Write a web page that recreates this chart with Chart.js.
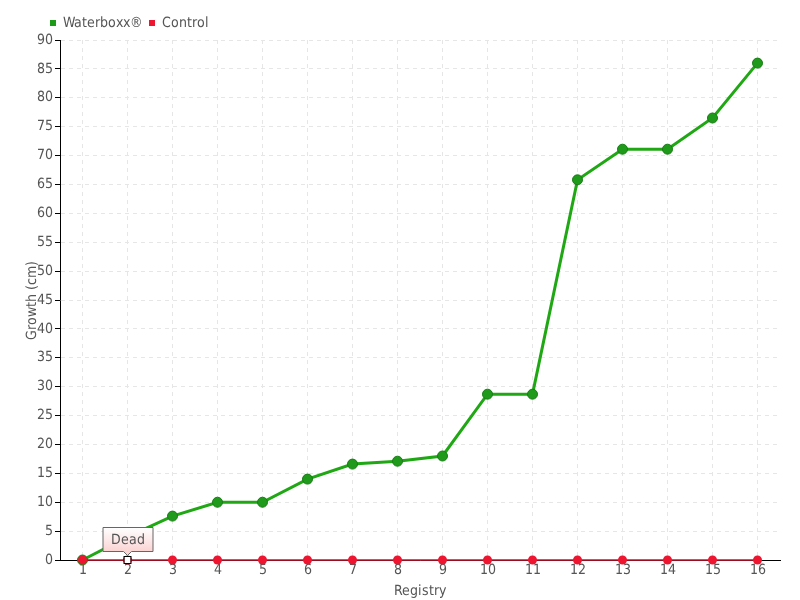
<!DOCTYPE html>
<html>
<head>
<meta charset="utf-8">
<script src="https://cdn.jsdelivr.net/npm/chart.js@4"></script>
<style>
  @font-face {
    font-family: 'NarrowFace';
    src: local('DejaVu Sans Condensed'), local('DejaVuSansCondensed'),
         local('Liberation Sans Narrow'), local('LiberationSansNarrow-Regular');
  }
  html, body { margin: 0; padding: 0; background: #fff; }
  #wrap { width: 800px; height: 600px; }
</style>
</head>
<body>
<div id="wrap"><canvas id="chart" width="800" height="600"></canvas></div>
<script>
// Data
const registry = ['1', '2', '3', '4', '5', '6', '7', '8', '9', '10', '11', '12', '13', '14', '15', '16'];
const waterboxx = [0, 4, 7.6, 10, 10, 14, 16.6, 17.1, 18, 28.7, 28.7, 65.8, 71.1, 71.1, 76.5, 86];
const control = [0, 0, 0, 0, 0, 0, 0, 0, 0, 0, 0, 0, 0, 0, 0, 0];
const deadIndex = 1;
const deadLabel = 'Dead';

const FONT = "NarrowFace, 'DejaVu Sans Condensed', 'Liberation Sans Narrow', sans-serif";
const TEXT = '#555';

// "Dead" callout over the control point
const deadCallout = {
  id: 'deadCallout',
  afterLayout(chart) {
    // legend starts at the plot's left edge in the reference
    chart.legend.left = 44;
  },
  afterDatasetsDraw(chart) {
    const { ctx, scales } = chart;
    const px = scales.x.getPixelForValue(deadIndex);
    const py = scales.y.getPixelForValue(control[deadIndex]);

    // marker square on the point
    ctx.save();
    ctx.fillStyle = '#fff';
    ctx.strokeStyle = '#000';
    ctx.lineWidth = 1;
    ctx.fillRect(px - 3, py - 3, 6, 6);
    ctx.strokeRect(px - 3.5, py - 3.5, 7, 7);

    const w = 50, h = 24;
    const left = px - 24.5, bottom = py - 8.5, top = bottom - h;
    const grad = ctx.createLinearGradient(0, top, 0, bottom);
    grad.addColorStop(0, '#ffffff');
    grad.addColorStop(1, '#fbd3d3');
    ctx.beginPath();
    ctx.moveTo(left, top);
    ctx.lineTo(left + w, top);
    ctx.lineTo(left + w, bottom);
    ctx.lineTo(px + 4, bottom);
    ctx.lineTo(px, bottom + 4);
    ctx.lineTo(px - 4, bottom);
    ctx.lineTo(left, bottom);
    ctx.closePath();
    ctx.fillStyle = grad;
    ctx.fill();
    ctx.strokeStyle = '#666';
    ctx.stroke();

    ctx.fillStyle = TEXT;
    ctx.font = '14px ' + FONT;
    ctx.textAlign = 'center';
    ctx.textBaseline = 'middle';
    ctx.fillText(deadLabel, left + w / 2, top + h / 2 + 1);
    ctx.restore();
  }
};

function draw() {
  new Chart(document.getElementById('chart'), {
    type: 'line',
    data: {
      labels: registry,
      datasets: [
        {
          label: 'Waterboxx®',
          data: waterboxx,
          borderColor: '#1fa814',
          backgroundColor: '#1c9a18',
          pointBorderColor: '#177d14',
          pointBackgroundColor: '#1f9a1a',
          borderWidth: 3,
          pointRadius: 5,
          pointBorderWidth: 1,
          tension: 0,
          clip: false,
          order: 2
        },
        {
          label: 'Control',
          data: control,
          borderColor: '#d0102a',
          backgroundColor: '#ee1530',
          pointBorderColor: '#e01028',
          pointBackgroundColor: '#ee1530',
          borderWidth: 1.5,
          pointRadius: 4.5,
          pointBorderWidth: 0,
          tension: 0,
          clip: false,
          order: 1
        }
      ]
    },
    options: {
      responsive: false,
      animation: false,
      layout: { padding: { left: 24, right: 20, top: 10, bottom: 0 } },
      plugins: {
        legend: {
          align: 'start',
          labels: {
            usePointStyle: true,
            pointStyle: 'rect',
            boxWidth: 6,
            boxHeight: 6,
            padding: 6,
            color: TEXT,
            font: { family: FONT, size: 14 },
            generateLabels(chart) {
              return chart.data.datasets.map((ds, i) => ({
                text: ds.label,
                fillStyle: ds.backgroundColor,
                strokeStyle: ds.backgroundColor,
                lineWidth: 0,
                pointStyle: 'rect',
                fontColor: TEXT,
                datasetIndex: i
              }));
            }
          },
          afterFit(legend) { legend.height = 30; }
        },
        tooltip: { enabled: false }
      },
      scales: {
        x: {
          offset: true,
          grid: {
            offset: false,
            color: '#e6e6e6',
            tickColor: 'rgba(0,0,0,0)',
            tickLength: 2,
            lineWidth: 1
          },
          border: { color: '#000', width: 1, dash: [4, 4] },
          ticks: { color: TEXT, font: { family: FONT, size: 14 }, padding: 0 },
          title: {
            display: true,
            text: 'Registry',
            color: TEXT,
            font: { family: FONT, size: 14 },
            padding: { top: -3, bottom: 0 }
          },
          afterFit(scale) { scale.height = 40; }
        },
        y: {
          min: 0,
          max: 90,
          ticks: {
            stepSize: 5,
            color: TEXT,
            font: { family: FONT, size: 14 },
            padding: 2
          },
          grid: {
            color: '#e6e6e6',
            tickColor: '#000',
            tickLength: 5
          },
          border: { color: '#000', width: 1, dash: [4, 4] },
          title: {
            display: true,
            text: 'Growth (cm)',
            color: TEXT,
            font: { family: FONT, size: 14 },
            padding: { top: 0, bottom: 0 }
          },
          afterFit(scale) { scale.width = 36; }
        }
      }
    },
    plugins: [deadCallout]
  });
}

document.fonts.load('14px NarrowFace').then(draw, draw);
</script>
</body>
</html>
